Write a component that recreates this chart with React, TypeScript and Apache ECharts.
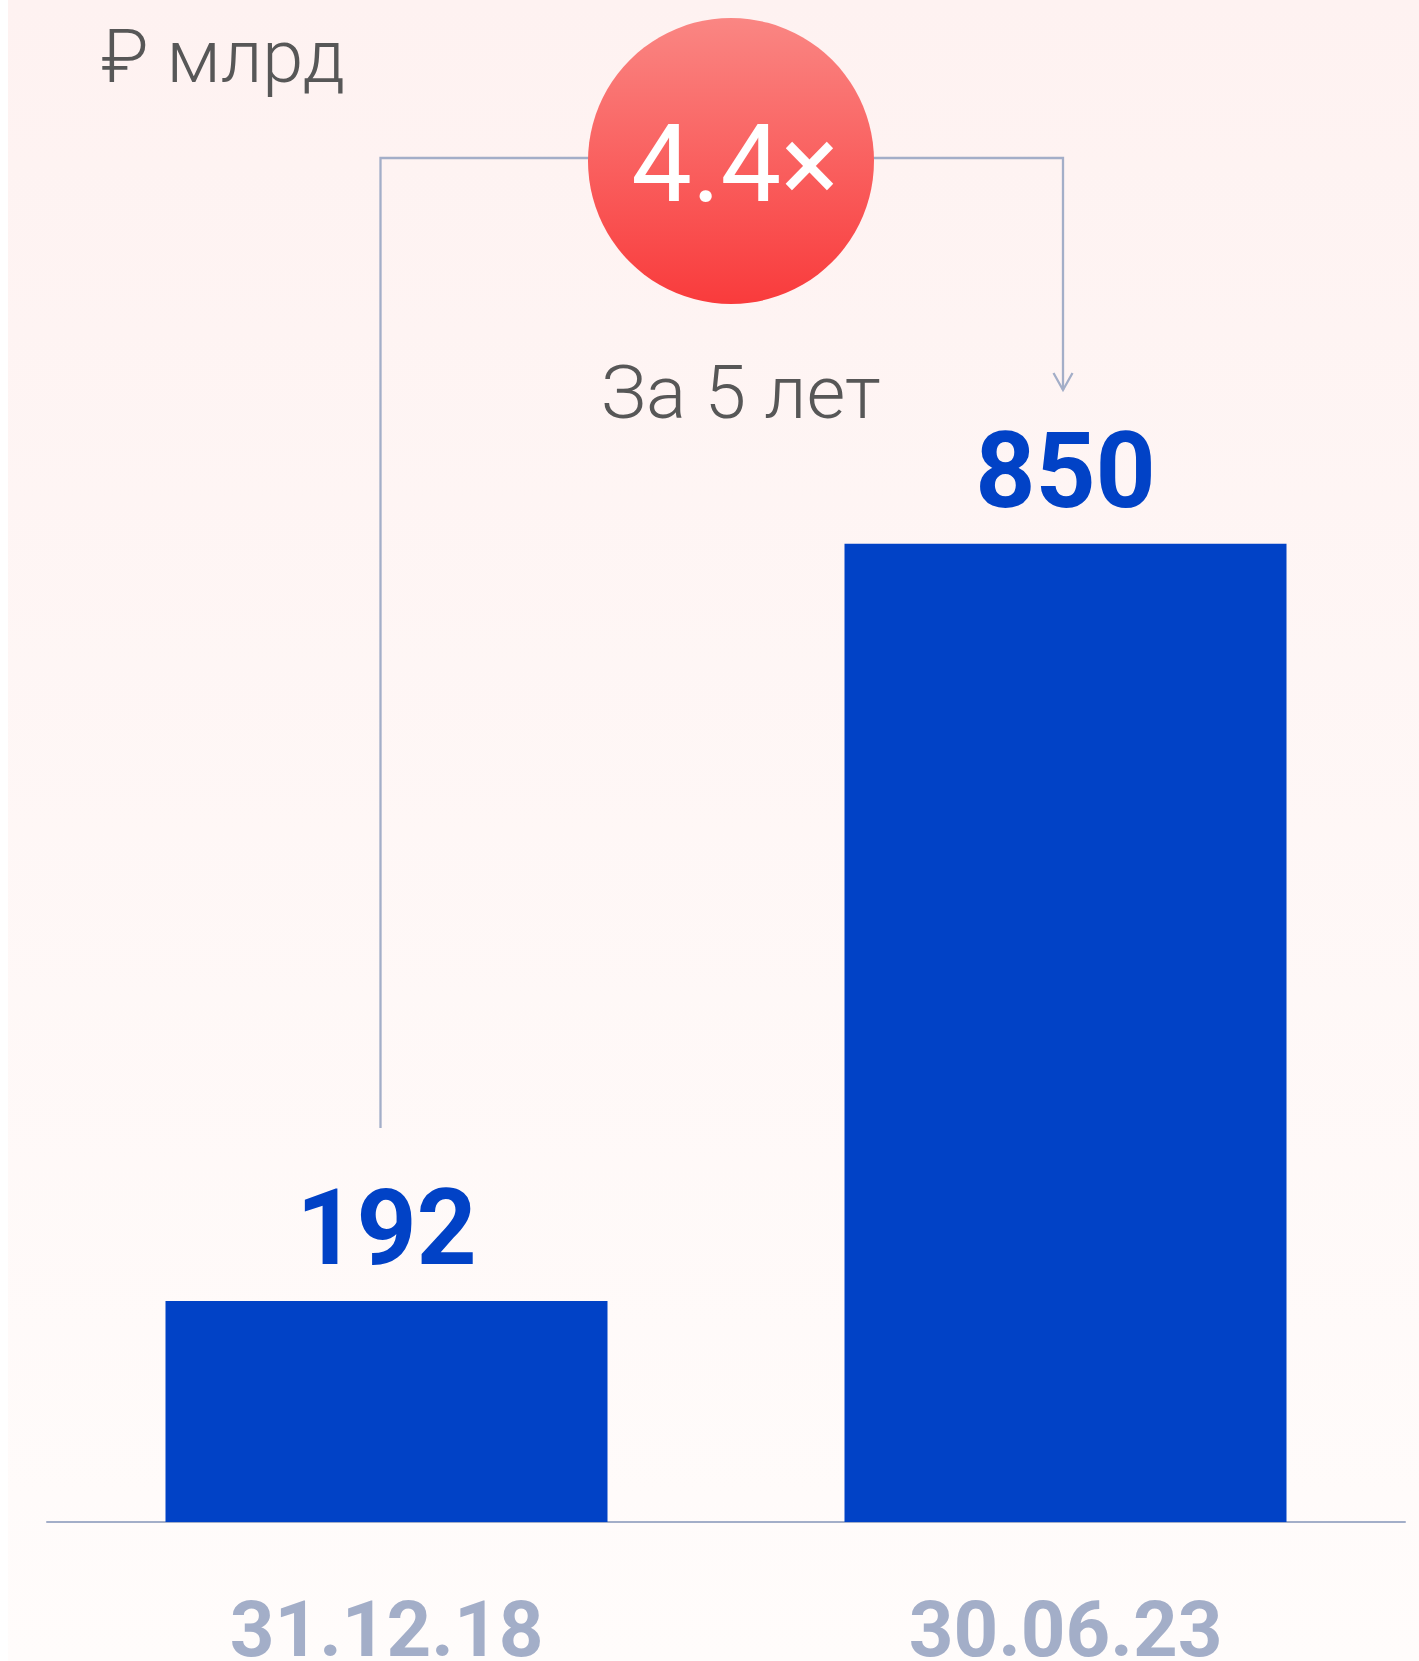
import React, { useEffect, useRef } from "react";
import * as echarts from "echarts";

const categories = ["31.12.18", "30.06.23"];
const values = [192, 850];
const unitLabel = "₽ млрд";
const badgeText = "4.4×";
const periodText = "За 5 лет";

const BLUE = "#0142C6";
const AXIS = "#A3AEC8";
const GRAY = "#575757";
const FONT = "Roboto, 'Noto Sans', sans-serif";

export default function App() {
  const ref = useRef<HTMLDivElement>(null);
  useEffect(() => {
    if (!ref.current) return;
    const chart = echarts.init(ref.current, null, { renderer: "svg" });
    chart.setOption({
      animation: false,
      grid: {
        left: 39,
        right: 14,
        top: 371,
        bottom: 139,
        containLabel: false,
        outerBoundsMode: "none",
      },
      xAxis: {
        type: "category",
        data: categories,
        axisLine: { show: true, lineStyle: { color: AXIS, width: 2 } },
        axisTick: { show: false },
        axisLabel: {
          color: AXIS,
          fontSize: 78,
          fontWeight: "bold",
          fontFamily: FONT,
          lineHeight: 40,
          margin: 87,
        },
      },
      yAxis: {
        type: "value",
        min: 0,
        max: 1000,
        show: false,
        splitLine: { show: false },
      },
      series: [
        {
          type: "bar",
          data: values,
          barWidth: 442,
          itemStyle: { color: BLUE },
          label: {
            show: true,
            position: "top",
            distance: 20,
            color: BLUE,
            fontSize: 105,
            fontWeight: "bold",
            fontFamily: FONT,
            lineHeight: 105,
          },
        },
      ],
      graphic: [
        {
          type: "polyline",
          shape: {
            points: [
              [372.5, 1128],
              [372.5, 158],
              [1055, 158],
              [1055, 390],
            ],
          },
          style: { stroke: AXIS, lineWidth: 2.3, fill: null },
          z: 1,
        },
        {
          type: "polyline",
          shape: {
            points: [
              [1045.5, 373],
              [1055, 390],
              [1064.5, 373],
            ],
          },
          style: { stroke: AXIS, lineWidth: 2.3, fill: null },
          z: 1,
        },
        {
          type: "circle",
          shape: { cx: 723, cy: 161, r: 143 },
          style: {
            fill: new echarts.graphic.LinearGradient(0, 0, 0, 1, [
              { offset: 0, color: "#FA8683" },
              { offset: 1, color: "#F93B3C" },
            ]),
          },
          z: 2,
        },
        {
          type: "text",
          x: 727,
          y: 164,
          style: {
            text: badgeText,
            fill: "#FFFFFF",
            fontSize: 108,
            fontWeight: 400,
            fontFamily: FONT,
            textAlign: "center",
            textVerticalAlign: "middle",
          },
          z: 3,
        },
        {
          type: "text",
          x: 93,
          y: 56,
          style: {
            text: unitLabel,
            fill: GRAY,
            fontSize: 74,
            fontWeight: 300,
            fontFamily: FONT,
            textAlign: "left",
            textVerticalAlign: "middle",
          },
          z: 3,
        },
        {
          type: "text",
          x: 733,
          y: 392,
          style: {
            text: periodText,
            fill: GRAY,
            fontSize: 75,
            fontWeight: 300,
            fontFamily: FONT,
            textAlign: "center",
            textVerticalAlign: "middle",
          },
          z: 3,
        },
      ],
    });
    return () => chart.dispose();
  }, []);
  return (
    <div
      ref={ref}
      style={{
        position: "absolute",
        left: 8,
        top: 0,
        width: 1411,
        height: 1661,
        background: "linear-gradient(to bottom, #FEF2F1 0%, #FFFCFB 100%)",
      }}
    />
  );
}
